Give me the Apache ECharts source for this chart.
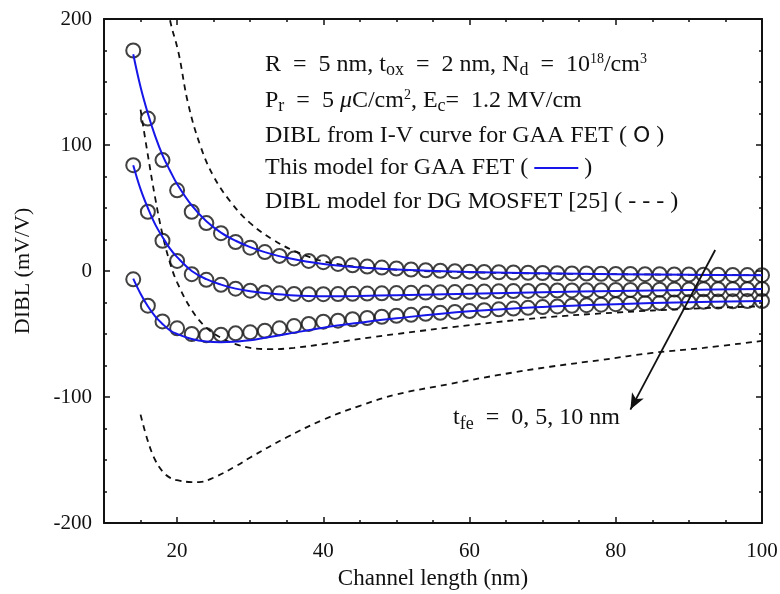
<!DOCTYPE html>
<html><head><meta charset="utf-8">
<script src="https://cdn.jsdelivr.net/npm/echarts@6/dist/echarts.min.js"></script>
<style>html,body{margin:0;padding:0;background:#fff}#c{width:780px;height:594px}</style>
</head><body><div id="c"></div>
<script>
// ---- Data ----
var circleX = [14,16,18,20,22,24,26,28,30,32,34,36,38,40,42,44,46,48,50,52,54,56,58,60,62,64,66,68,70,72,74,76,78,80,82,84,86,88,90,92,94,96,98,100];
var gaaIV_tfe0 = [175,121,88,64,47,38,30,23,18.5,15,12,10,8,7,5.6,4.5,3.5,2.7,2,1.2,0.6,0.2,-0.2,-0.5,-0.8,-1,-1.2,-1.4,-1.6,-1.8,-1.9,-2,-2.2,-2.3,-2.4,-2.5,-2.6,-2.7,-2.8,-2.9,-3,-3.1,-3.2,-3.3];
var gaaIV_tfe5 = [84,47,24,8,-2.5,-7,-11,-14,-15.6,-17,-17.7,-18.2,-18.4,-18.4,-18.3,-18.1,-17.9,-17.7,-17.5,-17.3,-17.1,-16.9,-16.7,-16.5,-16.3,-16.1,-15.9,-15.8,-15.6,-15.5,-15.4,-15.3,-15.2,-15.1,-15,-14.9,-14.8,-14.7,-14.6,-14.5,-14.5,-14.4,-14.4,-14.3];
var gaaIV_tfe10 = [-6.6,-27.5,-40,-45.5,-50,-51,-50.5,-49.5,-48.7,-47.4,-45.5,-43.7,-42,-40.2,-39.4,-38.3,-37.3,-36.3,-35.5,-34.8,-34,-33.2,-32.5,-31.8,-31.1,-30.4,-29.8,-29.2,-28.6,-28.1,-27.6,-27.1,-26.7,-26.3,-25.9,-25.6,-25.3,-25,-24.7,-24.5,-24.3,-24.1,-23.9,-23.8];

var modelX = [14,15,16,17,18,19,20,22,24,26,28,30,32,35,40,45,50,60,70,80,90,100];
var model_tfe0 = [172,146,125,107,92,80,69,52,39.5,30.5,24,19,15,10.5,5.5,2.8,1.2,-0.8,-1.8,-2.5,-3,-3.3];
var model_tfe5 = [84,65,50,37,27,18,11,0,-6.5,-10.8,-14,-16,-17.5,-19,-20,-19.8,-19.2,-18,-16.8,-15.8,-15,-14.3];
var model_tfe10 = [-6,-18,-28,-36,-42,-47,-50,-54,-56,-56.5,-56,-55,-53,-50,-45,-41,-37.5,-32,-28.5,-26.3,-24.8,-23.8];

var dgA_x = [18.4,19,20.2,21.5,23.2,25,27.3,30,33.2,36.8,41.4,50,60,70,80,90,100];
var dgA_y = [225,200,173,133,99,75,55,38,24.6,14,6,1,-1,-2,-2.5,-3,-3.3];
var dgB_x = [15,16,17,18,19,20,22,24,26,28,30,33,36,40,50,60,70,80,90,100];
var dgB_y = [128,92,58,29,7,-9,-31,-45,-53,-58,-61,-62,-61,-58,-50,-43,-37,-33,-30,-28];
var dgC_x = [15,16,17,18,19,20,22,23,25,28,30,35,40,45,50,57,64,71,78,85,92,100];
var dgC_y = [-114,-135,-150,-159,-164,-166,-167.5,-167.5,-164,-155,-148,-132,-118,-107,-98,-90,-82.5,-76,-70.6,-65,-61,-55.5];

var xMajorTicks = [20,40,60,80,100];
var arrowFrom = [93.6,16.7];
var arrowTo = [82,-110];

function pairs(xs, ys){ return xs.map(function(x,i){ return [x, ys[i]]; }); }

var FONT = 'Liberation Serif';
var BLUE = '#1616e8';
var INK = '#111111';
var E = '\u2002';

var chart = echarts.init(document.getElementById('c'), null, {renderer:'canvas'});

function xAx(pos, labels, major){
  var a = {
    type:'value', position:pos, min:10, max:100, gridIndex:0,
    splitLine:{show:false},
    axisLine:{show:major, onZero:false, lineStyle:{color:INK, width:2}},
    axisTick: major ? {inside:true, length:6, customValues:xMajorTicks, lineStyle:{color:INK,width:1.5}}
                    : {inside:true, length:3, interval:0, lineStyle:{color:INK,width:1.5}},
    axisLabel: labels ? {show:true, customValues:xMajorTicks, fontFamily:FONT, fontSize:21, color:INK, margin:18} : {show:false}
  };
  if(!major){ a.interval = 5; }
  return a;
}

var sub = {fontFamily:FONT, fontSize:18, padding:[12,0,0,0], fill:INK};
var sup = {fontFamily:FONT, fontSize:14, padding:[0,0,11,0], fill:INK};
var richStyles = {
  sub: sub, sup: sup,
  it: {fontFamily:FONT, fontSize:24, fontStyle:'italic', fill:INK},
  o: {fontFamily:'DejaVu Sans', fontSize:22, fill:INK},
  ln: {width:44, height:2, backgroundColor:BLUE, fill:BLUE, fontSize:2}
};
function legText(y, txt){
  return {type:'text', left:265, top:y, z:100,
    style:{text:txt, rich:richStyles, fontFamily:FONT, fontSize:24, fill:INK}};
}

var option = {
  backgroundColor:'#fff',
  animation:false,
  grid:{left:104, right:18, top:19, bottom:71, containLabel:false, outerBoundsMode:'none'},
  xAxis:[
    Object.assign(xAx('bottom', true, true), {name:'Channel length (nm)', nameLocation:'middle', nameGap:44,
      nameTextStyle:{fontFamily:FONT, fontSize:23, color:INK}}),
    xAx('top', false, true),
    xAx('bottom', false, false),
    xAx('top', false, false)
  ],
  yAxis:[
    {type:'value', position:'left', min:-200, max:200, interval:100,
     name:'DIBL (mV/V)', nameLocation:'middle', nameGap:70, nameRotate:90,
     nameTextStyle:{fontFamily:FONT, fontSize:22, color:INK},
     splitLine:{show:false},
     axisLine:{onZero:false, lineStyle:{color:INK, width:2}},
     axisTick:{inside:true, length:6, lineStyle:{color:INK,width:1.5}},
     minorTick:{show:true, splitNumber:4, length:3, lineStyle:{color:INK,width:1.5}},
     axisLabel:{fontFamily:FONT, fontSize:21, color:INK, margin:12}},
    {type:'value', position:'right', min:-200, max:200, interval:100,
     splitLine:{show:false},
     axisLine:{onZero:false, lineStyle:{color:INK, width:2}},
     axisTick:{inside:true, length:6, lineStyle:{color:INK,width:1.5}},
     minorTick:{show:true, splitNumber:4, length:3, lineStyle:{color:INK,width:1.5}},
     axisLabel:{show:false}}
  ],
  series:[
    // DG MOSFET model [25] (dashed)
    {type:'line', smooth:0.4, symbol:'none', data:pairs(dgA_x,dgA_y), lineStyle:{color:INK, width:1.8, type:[6,5]}, z:2},
    {type:'line', smooth:0.4, symbol:'none', data:pairs(dgB_x,dgB_y), lineStyle:{color:INK, width:1.8, type:[6,5]}, z:2},
    {type:'line', smooth:0.4, symbol:'none', data:pairs(dgC_x,dgC_y), lineStyle:{color:INK, width:1.8, type:[6,5]}, z:2,
     markLine:{silent:true, symbol:['none','arrow'], symbolSize:[10,16], label:{show:false},
       lineStyle:{color:INK, width:1.8, type:'solid'},
       data:[[{coord:arrowFrom},{coord:arrowTo}]]}},
    // DIBL from I-V curve (circles)
    {type:'scatter', symbol:'circle', symbolSize:14, data:pairs(circleX,gaaIV_tfe0), itemStyle:{color:'rgba(0,0,0,0)', borderColor:INK, borderWidth:2}, z:3},
    {type:'scatter', symbol:'circle', symbolSize:14, data:pairs(circleX,gaaIV_tfe5), itemStyle:{color:'rgba(0,0,0,0)', borderColor:INK, borderWidth:2}, z:3},
    {type:'scatter', symbol:'circle', symbolSize:14, data:pairs(circleX,gaaIV_tfe10), itemStyle:{color:'rgba(0,0,0,0)', borderColor:INK, borderWidth:2}, z:3},
    // This model (blue)
    {type:'line', smooth:0.4, symbol:'none', data:pairs(modelX,model_tfe0), lineStyle:{color:BLUE, width:2}, z:4},
    {type:'line', smooth:0.4, symbol:'none', data:pairs(modelX,model_tfe5), lineStyle:{color:BLUE, width:2}, z:4},
    {type:'line', smooth:0.4, symbol:'none', data:pairs(modelX,model_tfe10), lineStyle:{color:BLUE, width:2}, z:4}
  ],
  graphic:[
    legText(52, 'R'+E+'='+E+'5 nm, t{sub|ox}'+E+'='+E+'2 nm, N{sub|d}'+E+'='+E+'10{sup|18}/cm{sup|3}'),
    legText(88, 'P{sub|r}'+E+'='+E+'5 {it|μ}C/cm{sup|2}, E{sub|c}='+E+'1.2 MV/cm'),
    legText(124, 'DIBL from I-V curve for GAA FET ( {o|O} )'),
    legText(156, 'This model for GAA FET ( {ln| } )'),
    legText(190, 'DIBL model for DG MOSFET [25] ( - - - )'),
    {type:'text', left:453, top:406, z:100,
     style:{text:'t{sub|fe}'+E+'='+E+'0, 5, 10 nm', rich:richStyles, fontFamily:FONT, fontSize:24, fill:INK}}
  ]
};
chart.setOption(option);
</script>
</body></html>
